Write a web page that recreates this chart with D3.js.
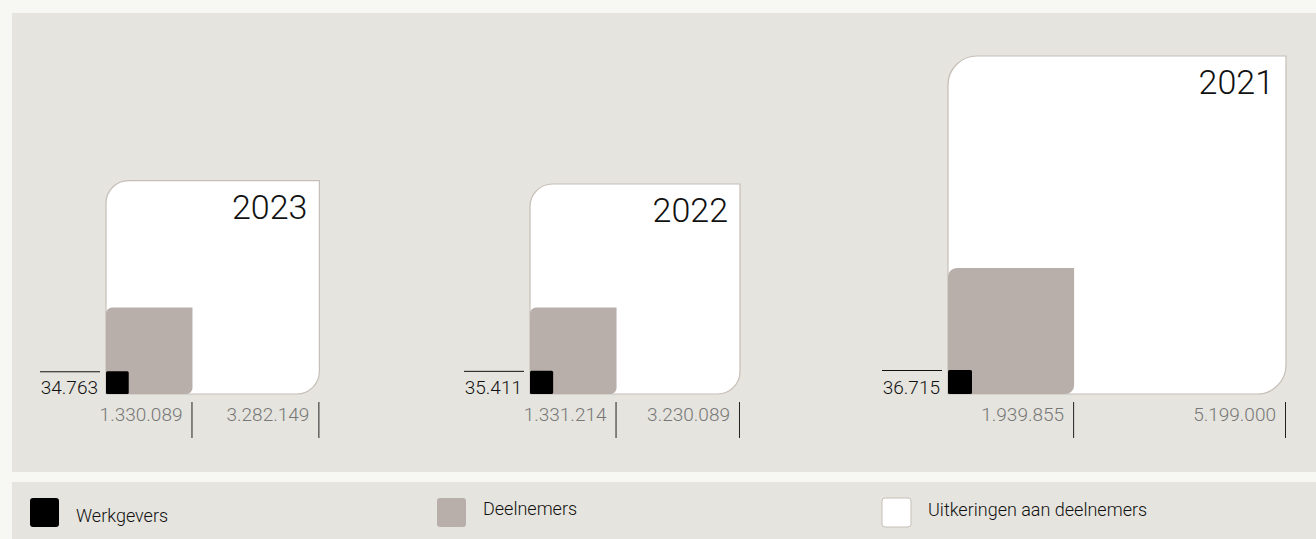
<!DOCTYPE html>
<html>
<head>
<meta charset="utf-8">
<script src="https://cdn.jsdelivr.net/npm/d3@7"></script>
<style>
  html, body { margin: 0; padding: 0; background: #f7f7f3; }
  svg { display: block; font-family: Roboto, "Open Sans", sans-serif; }
</style>
</head>
<body>
<svg id="chart" width="1316" height="539"></svg>
<script>
// data
var years = ["2023", "2022", "2021"];
var werkgevers = [34763, 35411, 36715];
var deelnemers = [1330089, 1331214, 1939855];
var uitkeringen = [3282149, 3230089, 5199000];
var legendLabels = ["Werkgevers", "Deelnemers", "Uitkeringen aan deelnemers"];

var fmt = function(v) { return d3.format(",")(v).replace(/,/g, "."); };

var svg = d3.select("#chart");

// panels
svg.append("rect").attr("x", 12).attr("y", 13).attr("width", 1304).attr("height", 459).attr("fill", "#e5e4de");
svg.append("rect").attr("x", 12).attr("y", 482).attr("width", 1304).attr("height", 57).attr("fill", "#e5e4de");

var baseY = 394;

var xPos = d3.scalePoint().domain(years).range([106, 948]);
var side = d3.scaleLinear().domain([0, d3.max(uitkeringen)]).range([0, 338]);
var smallSide = d3.scaleLinear().domain([0, d3.max(werkgevers)]).range([0, 24]);

// square with rounded top-left and bottom-right corners
function cornerBox(x, y, w, h, r) {
    var p = d3.path();
    p.moveTo(x, y + r);
    p.arcTo(x, y, x + r, y, r);
    p.lineTo(x + w, y);
    p.lineTo(x + w, y + h - r);
    p.arcTo(x + w, y + h, x + w - r, y + h, r);
    p.lineTo(x, y + h);
    p.closePath();
    return p.toString();
}

var rows = years.map(function(y, i) {
    return { year: y, w: werkgevers[i], d: deelnemers[i], u: uitkeringen[i] };
});

var g = svg.selectAll(".year").data(rows).enter().append("g").attr("class", "year")
    .attr("transform", function(d) { return "translate(" + (xPos(d.year) + (d.year == "2022" ? 3 : 0)) + "," + baseY + ")"; });

// uitkeringen (white)
g.append("path")
    .attr("d", function(d) { var s = side(d.u); return cornerBox(0, -s, s, s, 12 + s * 0.05); })
    .attr("fill", "#ffffff")
    .attr("stroke", "#c6beb7")
    .attr("stroke-width", 1.2);

// deelnemers (grey)
g.append("path")
    .attr("d", function(d) { var s = side(d.d); return cornerBox(0, -s, s, s, s * 0.07); })
    .attr("fill", "#b8afaa");

// werkgevers (black)
g.append("rect")
    .attr("x", 0)
    .attr("y", function(d) { return -smallSide(d.w); })
    .attr("width", function(d) { return smallSide(d.w); })
    .attr("height", function(d) { return smallSide(d.w); })
    .attr("rx", 1.5)
    .attr("fill", "#000");

// year label
g.append("text")
    .attr("x", function(d) { return side(d.u) - 12; })
    .attr("y", function(d) { return -side(d.u) + 38; })
    .attr("text-anchor", "end")
    .attr("font-size", 34)
    .attr("font-weight", 300)
    .attr("fill", "#111")
    .text(function(d) { return d.year; });

// werkgevers label + line
g.append("line")
    .attr("x1", -66).attr("x2", -6)
    .attr("y1", function(d) { return -smallSide(d.w) + 0.5; })
    .attr("y2", function(d) { return -smallSide(d.w) + 0.5; })
    .attr("stroke", "#111").attr("stroke-width", 1);

g.append("text")
    .attr("x", -8).attr("y", 0)
    .attr("text-anchor", "end")
    .attr("font-size", 19)
    .attr("font-weight", 300)
    .attr("fill", "#111")
    .text(function(d) { return fmt(d.w); });

// bottom value labels with ticks
["d", "u"].forEach(function(key) {
    g.append("line")
        .attr("x1", function(d) { return side(d[key]) - 0.5; })
        .attr("x2", function(d) { return side(d[key]) - 0.5; })
        .attr("y1", 8).attr("y2", 44)
        .attr("stroke", "#222").attr("stroke-width", 1);
    g.append("text")
        .attr("x", function(d) { return side(d[key]) - 10; })
        .attr("y", 27)
        .attr("text-anchor", "end")
        .attr("font-size", 19)
        .attr("font-weight", 300)
        .attr("fill", "#777")
        .text(function(d) { return fmt(d[key]); });
});

// legend
var legX = [30, 437, 882];
var legTextY = [522, 515, 516];
var legFill = ["#000", "#b8afaa", "#fff"];
var leg = svg.selectAll(".leg").data(legendLabels).enter().append("g").attr("class", "leg");
leg.append("rect")
    .attr("x", function(d, i) { return legX[i]; })
    .attr("y", 498)
    .attr("width", 29).attr("height", 29).attr("rx", 3)
    .attr("fill", function(d, i) { return legFill[i]; })
    .attr("stroke", function(d, i) { return i == 2 ? "#c6beb7" : "none"; });
leg.append("text")
    .attr("x", function(d, i) { return legX[i] + 46; })
    .attr("y", function(d, i) { return legTextY[i]; })
    .attr("font-size", 18)
    .attr("font-weight", 300)
    .attr("fill", "#111")
    .text(function(d) { return d; });
</script>
</body>
</html>
